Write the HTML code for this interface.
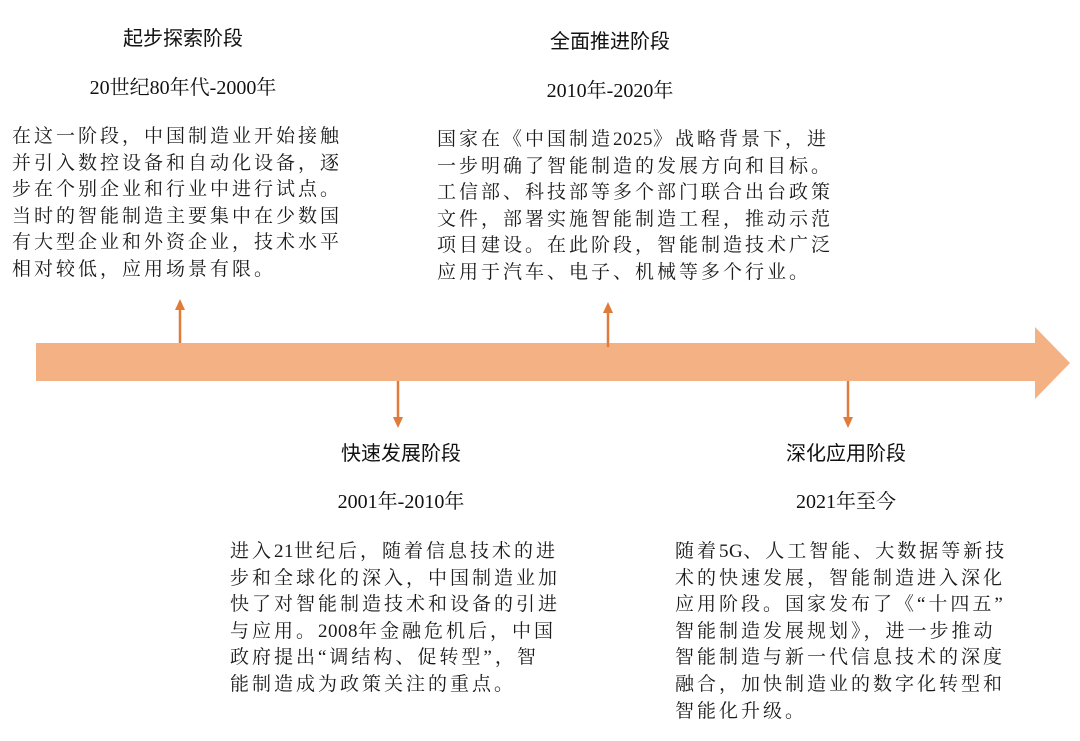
<!DOCTYPE html>
<html><head><meta charset="utf-8"><style>
body{margin:0;width:1080px;height:741px;background:#fff;position:relative;overflow:hidden}
.t{position:absolute;font-family:"Liberation Sans","Noto Sans CJK SC",sans-serif;font-size:20px;color:#111;white-space:nowrap;transform:translateX(-50%)}
.d{position:absolute;font-family:"Liberation Serif","Noto Serif CJK SC",serif;font-size:20px;color:#111;white-space:nowrap;transform:translateX(-50%)}
.p{position:absolute;font-family:"Liberation Serif","Noto Serif CJK SC",serif;font-size:19px;letter-spacing:3px;line-height:26.6px;color:#1a1a1a;white-space:pre}
.p b{font-weight:normal;letter-spacing:0.5px}
</style></head><body>
<svg width="1080" height="741" style="position:absolute;left:0;top:0">
<polygon points="36,343 1035,343 1035,327 1070,363 1035,399 1035,381 36,381" fill="#f4b183"/>
<g stroke="#e07b39" stroke-width="2.5" fill="#e07b39">
<line x1="180" y1="343" x2="180" y2="308"/><polygon points="175,310 185,310 180,299" stroke="none"/>
<line x1="608" y1="347" x2="608" y2="311"/><polygon points="603,313 613,313 608,302" stroke="none"/>
<line x1="398" y1="381" x2="398" y2="419"/><polygon points="393,417 403,417 398,428" stroke="none"/>
<line x1="848" y1="381" x2="848" y2="419"/><polygon points="843,417 853,417 848,428" stroke="none"/>
</g></svg>
<div class="t" style="left:183px;top:22px">起步探索阶段</div>
<div class="d" style="left:183px;top:71px">20世纪80年代-2000年</div>
<div class="p" style="left:12px;top:124px">在这一阶段，中国制造业开始接触
并引入数控设备和自动化设备，逐
步在个别企业和行业中进行试点。
当时的智能制造主要集中在少数国
有大型企业和外资企业，技术水平
相对较低，应用场景有限。</div>
<div class="t" style="left:610px;top:25px">全面推进阶段</div>
<div class="d" style="left:610px;top:74px">2010年-2020年</div>
<div class="p" style="left:437px;top:127px">国家在《中国制造<b>2025</b>》战略背景下，进
一步明确了智能制造的发展方向和目标。
工信部、科技部等多个部门联合出台政策
文件，部署实施智能制造工程，推动示范
项目建设。在此阶段，智能制造技术广泛
应用于汽车、电子、机械等多个行业。</div>
<div class="t" style="left:401px;top:437px">快速发展阶段</div>
<div class="d" style="left:401px;top:485px">2001年-2010年</div>
<div class="p" style="left:230px;top:539px">进入<b>21</b>世纪后，随着信息技术的进
步和全球化的深入，中国制造业加
快了对智能制造技术和设备的引进
与应用。<b>2008</b>年金融危机后，中国
政府提出“调结构、促转型”，智
能制造成为政策关注的重点。</div>
<div class="t" style="left:846px;top:437px">深化应用阶段</div>
<div class="d" style="left:846px;top:485px">2021年至今</div>
<div class="p" style="left:675px;top:539px">随着<b>5G</b>、人工智能、大数据等新技
术的快速发展，智能制造进入深化
应用阶段。国家发布了《“十四五”
智能制造发展规划》，进一步推动
智能制造与新一代信息技术的深度
融合，加快制造业的数字化转型和
智能化升级。</div>
</body></html>
